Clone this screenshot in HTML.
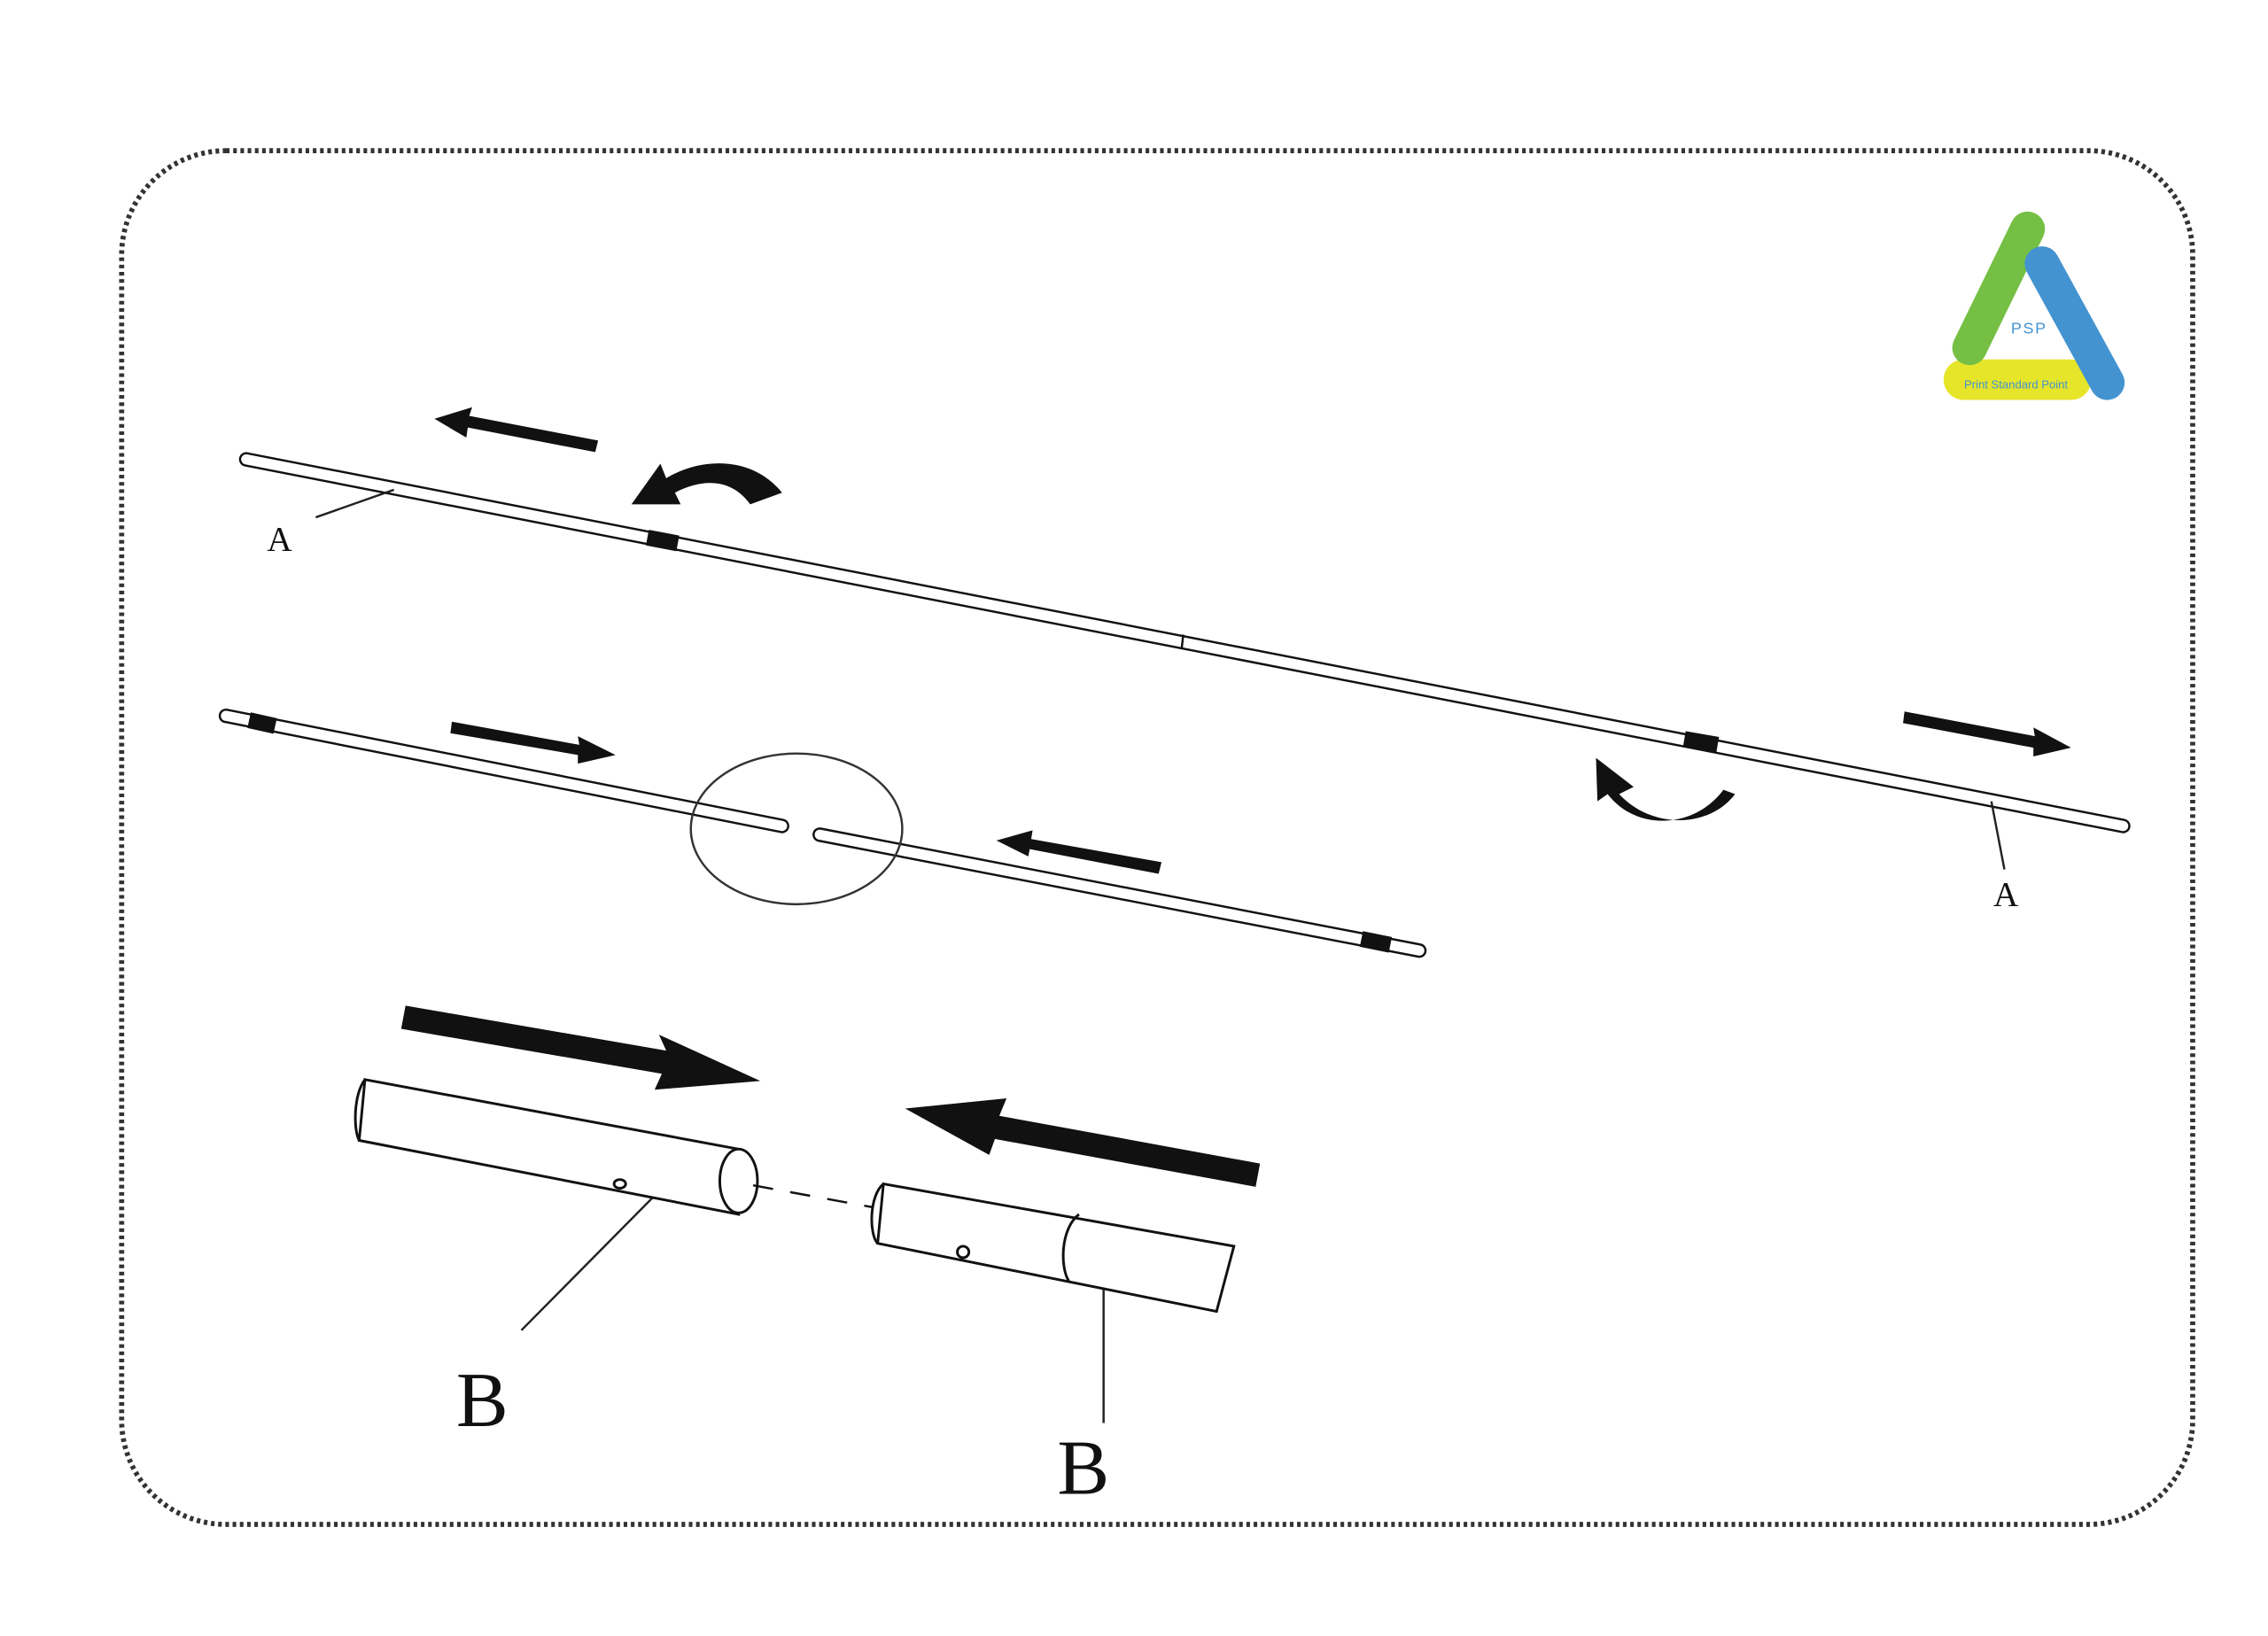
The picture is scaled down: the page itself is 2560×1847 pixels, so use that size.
<!DOCTYPE html>
<html><head><meta charset="utf-8"><style>html,body{margin:0;padding:0;background:#fff}svg{display:block}</style></head>
<body>
<svg width="2560" height="1847" viewBox="0 0 1566 1129" preserveAspectRatio="none" xmlns="http://www.w3.org/2000/svg">
<rect x="84" y="104" width="1430" height="948" rx="72" fill="none" stroke="#333" stroke-width="3.5" stroke-dasharray="2.5 2.5"/>
<!-- logo -->
<g stroke-linecap="round" fill="none">
<line x1="1356" y1="262" x2="1430" y2="262" stroke="#e6e52a" stroke-width="28"/>
<line x1="1360" y1="240" x2="1400" y2="158" stroke="#74bf44" stroke-width="24"/>
<line x1="1410" y1="182" x2="1455" y2="264" stroke="#4393d0" stroke-width="24"/>
</g>
<text x="1401" y="230" font-family="Liberation Sans,sans-serif" font-size="11" fill="#4393d0" text-anchor="middle" letter-spacing="1">PSP</text>
<text x="1392" y="268" font-family="Liberation Sans,sans-serif" font-size="8" fill="#4393d0" text-anchor="middle">Print Standard Point</text>
<!-- rods -->
<g stroke-linecap="round">
<line x1="170" y1="317" x2="1466" y2="570" stroke="#111" stroke-width="10"/>
<line x1="170" y1="317" x2="1466" y2="570" stroke="#fff" stroke-width="7"/>
<line x1="156" y1="494" x2="540" y2="570" stroke="#111" stroke-width="10"/>
<line x1="156" y1="494" x2="540" y2="570" stroke="#fff" stroke-width="7"/>
<line x1="566" y1="576" x2="980" y2="656" stroke="#111" stroke-width="10"/>
<line x1="566" y1="576" x2="980" y2="656" stroke="#fff" stroke-width="7"/>
</g>
<g stroke="#111" stroke-width="11">
<line x1="447" y1="371" x2="468" y2="375"/>
<line x1="1163" y1="510" x2="1186" y2="514"/>
<line x1="172" y1="497" x2="190" y2="501"/>
<line x1="940" y1="648" x2="960" y2="652"/>
</g>
<line x1="817" y1="438" x2="816" y2="447" stroke="#111" stroke-width="1.5"/>
<ellipse cx="550" cy="572" rx="73" ry="52" fill="none" stroke="#333" stroke-width="1.5"/>
<!-- leaders -->
<g stroke="#222" stroke-width="1.5" fill="none">
<line x1="218" y1="357" x2="272" y2="338"/>
<line x1="1375" y1="553" x2="1384" y2="600"/>
<line x1="360" y1="918" x2="465" y2="812"/>
<line x1="762" y1="878" x2="762" y2="982"/>
</g>
<g font-family="Liberation Serif,serif" fill="#111">
<text x="193" y="380" font-size="24" text-anchor="middle">A</text>
<text x="1385" y="625" font-size="24" text-anchor="middle">A</text>
<text x="333" y="984" font-size="54" text-anchor="middle">B</text>
<text x="748" y="1031" font-size="54" text-anchor="middle">B</text>
</g>
<!-- small arrows -->
<g fill="#111">
<polygon points="413,304 324,287 326,281 300,289 322,302 323,295 411,312"/>
<polygon points="1315,491 1405,508 1404,502 1430,516 1404,522 1404,516 1314,499"/>
<polygon points="312,498 400,514 399,508 425,521 399,527 399,521 311,506"/>
<polygon points="802,595 712,579 713,573 688,580 710,591 711,586 800,603"/>
<polygon points="280,694 460,725 455,714 525,746 452,752 457,741 277,710"/>
<polygon points="870,803 690,770 695,758 625,765 683,797 687,786 867,819"/>
<path d="M540,340 C520,315 485,315 460,330 L456,320 L436,348 L470,348 L466,340 C485,330 505,330 518,348 Z"/>
<path d="M1198,548 C1180,572 1140,572 1118,548 L1128,543 L1102,523 L1103,553 L1110,548 C1130,574 1170,572 1190,545 Z"/>
</g>
<!-- cylinders -->
<g stroke="#111" stroke-width="1.8" fill="#fff">
<path d="M252,745 L510,793 L510,838 L248,787 Z"/>
<path d="M252,745 C244,755 244,780 248,787" fill="none"/>
<ellipse cx="510" cy="815" rx="13" ry="22"/>
<ellipse cx="428" cy="817" rx="4" ry="3"/>
<path d="M610,817 L852,860 L840,905 L606,858 Z"/>
<path d="M610,817 C600,825 600,852 606,858" fill="none"/>
<path d="M745,838 C732,848 732,875 738,884" fill="none"/>
<ellipse cx="665" cy="864" rx="4" ry="4"/>
</g>
<line x1="520" y1="818" x2="602" y2="833" stroke="#111" stroke-width="1.5" stroke-dasharray="14 12"/>
</svg>
</body></html>
